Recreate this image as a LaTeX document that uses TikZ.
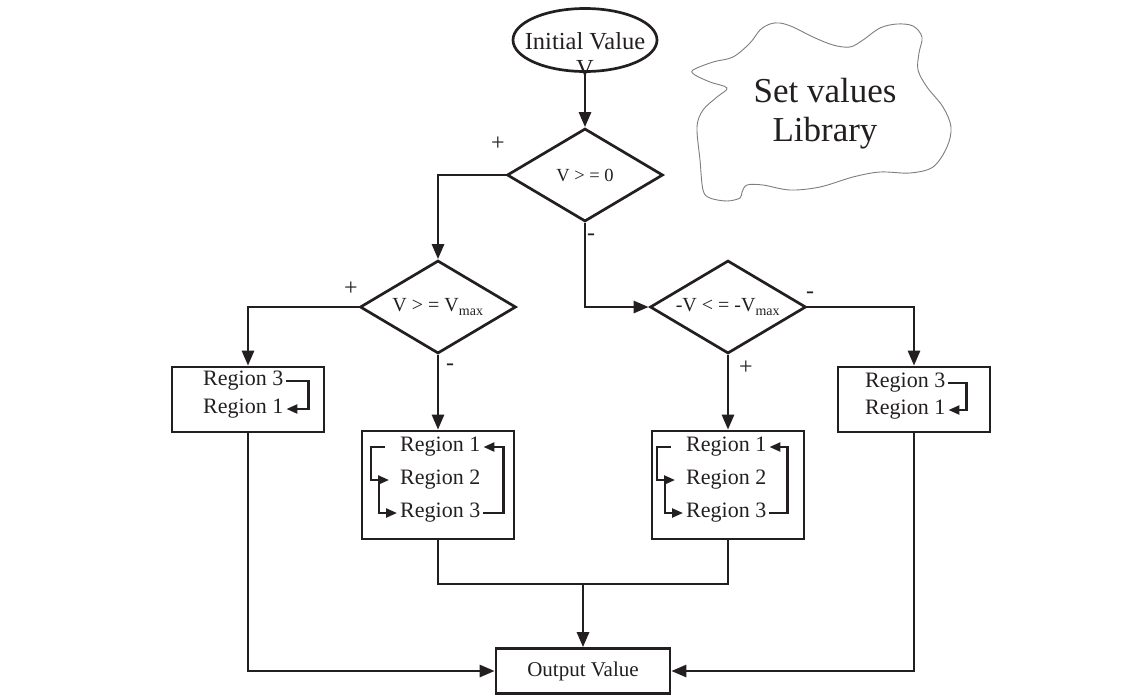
\documentclass[tikz,border=0pt]{standalone}
\usepackage{fontspec}
\setmainfont{Liberation Serif}
\usetikzlibrary{arrows.meta,calc,positioning,shapes.geometric}
\definecolor{inkblack}{RGB}{35,31,32}
\definecolor{cloudgray}{RGB}{125,125,125}
\tikzset{
flowline/.style={line width=2.7pt, draw=inkblack},
flowarrow/.style={flowline, -{Triangle[length=15pt,width=12pt]}},
hookline/.style={line width=2.3pt, draw=inkblack},
hookarrow/.style={hookline, -{Triangle[length=11pt,width=9pt]}},
startnode/.style={ellipse, draw=inkblack, line width=2.7pt, minimum width=144pt, minimum height=63pt, inner sep=0pt},
startlabel/.style={font=\fontsize{24.5}{27}\selectfont, text=inkblack, align=center, inner sep=0pt},
decision/.style={diamond, draw=inkblack, line width=2.7pt, aspect=1.68, inner sep=0pt, minimum width=156pt, minimum height=93pt, text=inkblack, font=\fontsize{20}{24}\selectfont},
regionbox/.style={draw=inkblack, line width=2.7pt, minimum width=152pt, inner sep=0pt},
regiontext/.style={anchor=west, inner xsep=3pt, inner ysep=0pt, text=inkblack, font=\fontsize{22}{26}\selectfont},
outbox/.style={draw=inkblack, line width=2.7pt, minimum width=174pt, minimum height=45pt, inner sep=0pt, text=inkblack, font=\fontsize{21}{24}\selectfont},
signlabel/.style={inner sep=0pt, text=inkblack, font=\fontsize{24}{26}\selectfont},
cloudline/.style={draw=cloudgray, line width=0.9pt},
librarytext/.style={align=center, text=inkblack, font=\fontsize{35}{39}\selectfont}
}
\begin{document}
\begin{tikzpicture}[x=1pt,y=-1pt]
\useasboundingbox (0,0) rectangle (1144,697);

\node[startnode] (init) at (585,40) {};
\node[startlabel] (initlabel) at (585,55) {Initial Value\\V};

\draw[cloudline] plot[smooth cycle, tension=0.55] coordinates {
(693,70) (713,62) (733,57) (750,43) (760,30) (770,24) (780,23) (793,27)
(813,37) (833,45) (850,47) (863,40) (880,28) (897,24) (913,26) (922,37)
(919,53) (918,70) (927,87) (943,107) (951,127) (947,147) (933,167) (910,173)
(880,172) (853,177) (820,187) (790,190) (763,185) (747,185) (742,192) (740,198)
(727,201) (710,198) (703,190) (700,160) (697,127) (703,110) (717,97) (727,88)
(710,82) (695,75)};
\node[librarytext] (library) at (825,114) {Set values\\Library};

\node[decision, font=\fontsize{18.5}{22}\selectfont] (dec0) at (585,175) {V > = 0};
\node[decision] (dec1) at (438,307) {V > = V\textsubscript{max}};
\node[decision] (dec2) at (728,307) {-V < = -V\textsubscript{max}};

\node[regionbox, minimum height=65pt] (box1) at (248,399.5) {};
\node[regionbox, minimum height=108pt] (box2) at (438,485) {};
\node[regionbox, minimum height=108pt] (box3) at (728,485) {};
\node[regionbox, minimum height=65pt] (box4) at (914,399.5) {};
\node[outbox] (out) at (583,671) {Output Value};

\node[regiontext] (a3) at (200,381) {Region 3};
\node[regiontext] (a1) at (200,409) {Region 1};
\node[regiontext] (b1) at (397,447) {Region 1};
\node[regiontext] (b2) at (397,480) {Region 2};
\node[regiontext] (b3) at (397,513) {Region 3};
\node[regiontext] (c1) at (683,447) {Region 1};
\node[regiontext] (c2) at (683,480) {Region 2};
\node[regiontext] (c3) at (683,513) {Region 3};
\node[regiontext] (d3) at (862,383) {Region 3};
\node[regiontext] (d1) at (862,410) {Region 1};

\node[signlabel] (plus0) at (498,144) {+};
\node[signlabel] (minus0) at (591,237) {-};
\node[signlabel] (plus1) at (351,289) {+};
\node[signlabel] (minus1) at (450,367) {-};
\node[signlabel] (minus2) at (810,295) {-};
\node[signlabel] (plus2) at (746,368) {+};

\draw[flowarrow] (init) -- (dec0);
\draw[flowarrow] (dec0.west) -| (dec1.north);
\draw[flowarrow] (dec0.south) |- (dec2.west);
\draw[flowarrow] (dec1.west) -| (box1.north);
\draw[flowarrow] (dec1.south) -- (box2.north);
\draw[flowarrow] (dec2.east) -| (box4.north);
\draw[flowarrow] (dec2.south) -- (box3.north);

\coordinate (merge) at (583,584);
\draw[flowline] (box2.south) |- (merge) -| (box3.south);
\draw[flowarrow] (merge) -- (out.north);
\draw[flowarrow] (box1.south) |- (out.west);
\draw[flowarrow] (box4.south) |- (out.east);

\draw[hookarrow] (a3.east) -- ++(22,0) |- (a1.east);
\draw[hookarrow] (d3.east) -- ++(18,0) |- (d1.east);

\draw[hookarrow] (b3.east) -- ++(20,0) |- (b1.east);
\draw[hookarrow] ([xshift=-12pt]b1.west) -- ++(-14,0) |- ([xshift=-8pt]b2.west);
\draw[hookarrow] ([xshift=-18pt]b2.west) |- (b3.west);

\draw[hookarrow] (c3.east) -- ++(18,0) |- (c1.east);
\draw[hookarrow] ([xshift=-12pt]c1.west) -- ++(-14,0) |- ([xshift=-8pt]c2.west);
\draw[hookarrow] ([xshift=-18pt]c2.west) |- (c3.west);

\end{tikzpicture}
\end{document}
